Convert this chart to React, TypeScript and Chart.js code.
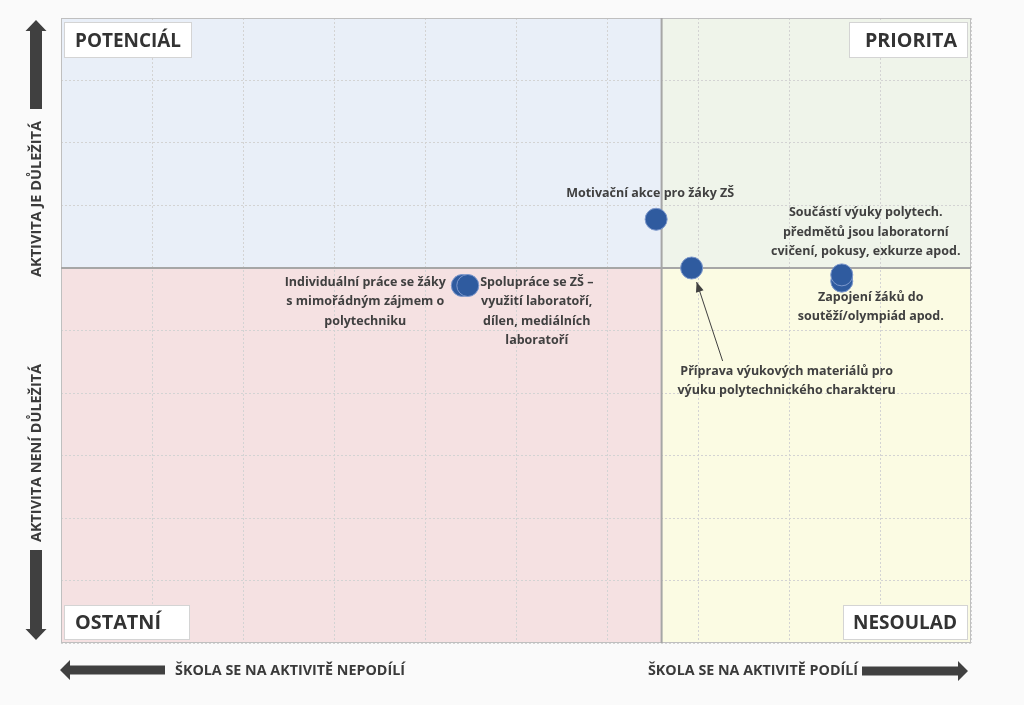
import React, { useEffect, useRef } from "react";
import { Chart, registerables } from "chart.js";

Chart.register(...registerables);

// ---- data ----
const activities: string[] = [
  "Motivační akce pro žáky ZŠ",
  "Příprava výukových materiálů pro výuku polytechnického charakteru",
  "Zapojení žáků do soutěží/olympiád apod.",
  "Součástí výuky polytech. předmětů jsou laboratorní cvičení, pokusy, exkurze apod.",
  "Individuální práce se žáky s mimořádným zájmem o polytechniku",
  "Spolupráce se ZŠ – využití laboratoří, dílen, mediálních laboratoří",
];
const participation: number[] = [6.54, 6.93, 8.58, 8.58, 4.41, 4.47];
const importance: number[] = [6.78, 6.0, 5.79, 5.89, 5.72, 5.72];

const xDivider = 6.6;
const yDivider = 6;
const axisMin = 0;
const axisMax = 10;

const quadrantNames: string[] = ["POTENCIÁL", "PRIORITA", "OSTATNÍ", "NESOULAD"];
const axisTexts: string[] = [
  "AKTIVITA JE DŮLEŽITÁ",
  "AKTIVITA NENÍ DŮLEŽITÁ",
  "ŠKOLA SE NA AKTIVITĚ NEPODÍLÍ",
  "ŠKOLA SE NA AKTIVITĚ PODÍLÍ",
];

// ---- label layout (style) ----
const labelLines: string[][] = [
  ["Motivační akce pro žáky ZŠ"],
  ["Příprava výukových materiálů pro", "výuku polytechnického charakteru"],
  ["Zapojení žáků do", "soutěží/olympiád apod."],
  ["Součástí výuky polytech.", "předmětů jsou laboratorní", "cvičení, pokusy, exkurze apod."],
  ["Individuální práce se žáky", "s mimořádným zájmem o", "polytechniku"],
  ["Spolupráce se ZŠ –", "využití laboratoří,", "dílen, mediálních", "laboratoří"],
];
const labelOffsets: [number, number][] = [
  [-6, -26],
  [95, 103],
  [29, 16],
  [24, -62],
  [-97, -3],
  [69, -3],
];

const FONT = '"Open Sans", "DejaVu Sans", sans-serif';

function blockArrow(
  ctx: CanvasRenderingContext2D,
  x1: number, y1: number, x2: number, y2: number,
  shaft: number, headW: number, headL: number, color: string
) {
  const ang = Math.atan2(y2 - y1, x2 - x1);
  const len = Math.hypot(x2 - x1, y2 - y1);
  ctx.save();
  ctx.translate(x1, y1);
  ctx.rotate(ang);
  ctx.fillStyle = color;
  ctx.beginPath();
  ctx.moveTo(0, -shaft / 2);
  ctx.lineTo(len - headL, -shaft / 2);
  ctx.lineTo(len - headL, -headW / 2);
  ctx.lineTo(len, 0);
  ctx.lineTo(len - headL, headW / 2);
  ctx.lineTo(len - headL, shaft / 2);
  ctx.lineTo(0, shaft / 2);
  ctx.closePath();
  ctx.fill();
  ctx.restore();
}

const quadrantPlugin = {
  id: "quadrants",
  beforeDraw(chart: any) {
    const { ctx, chartArea: a, scales } = chart;
    const xs = scales.x, ys = scales.y;
    const mx = xs.getPixelForValue(xDivider);
    const my = ys.getPixelForValue(yDivider);
    ctx.save();
    ctx.fillStyle = "#fafafa";
    ctx.fillRect(0, 0, chart.width, chart.height);
    ctx.fillStyle = "#e9eff8";
    ctx.fillRect(a.left, a.top, mx - a.left, my - a.top);
    ctx.fillStyle = "#eff4ea";
    ctx.fillRect(mx, a.top, a.right - mx, my - a.top);
    ctx.fillStyle = "#f5e1e2";
    ctx.fillRect(a.left, my, mx - a.left, a.bottom - my);
    ctx.fillStyle = "#fbfbe3";
    ctx.fillRect(mx, my, a.right - mx, a.bottom - my);
    ctx.restore();
  },
  beforeDatasetsDraw(chart: any) {
    const { ctx, chartArea: a, scales } = chart;
    const mx = scales.x.getPixelForValue(xDivider);
    const my = scales.y.getPixelForValue(yDivider);
    ctx.save();
    ctx.strokeStyle = "#bfbfbf";
    ctx.lineWidth = 1;
    ctx.strokeRect(a.left + 0.5, a.top + 0.5, a.right - a.left - 1, a.bottom - a.top - 1);
    ctx.strokeStyle = "#a6a6a6";
    ctx.lineWidth = 2;
    ctx.beginPath();
    ctx.moveTo(mx, a.top);
    ctx.lineTo(mx, a.bottom);
    ctx.moveTo(a.left, my);
    ctx.lineTo(a.right, my);
    ctx.stroke();
    ctx.restore();
  },
  afterDatasetsDraw(chart: any) {
    const { ctx, chartArea: a, scales } = chart;
    const xs = scales.x, ys = scales.y;
    ctx.save();

    // data labels
    ctx.fillStyle = "#404040";
    ctx.font = `bold 12.5px ${FONT}`;
    ctx.textAlign = "center";
    ctx.textBaseline = "middle";
    const lh = 19.3;
    for (let i = 0; i < activities.length; i++) {
      const px = xs.getPixelForValue(participation[i]);
      const py = ys.getPixelForValue(importance[i]);
      const [dx, dy] = labelOffsets[i];
      labelLines[i].forEach((ln, k) => {
        ctx.fillText(ln, px + dx, py + dy + k * lh);
      });
    }

    // annotation arrow for "Příprava"
    {
      const px = xs.getPixelForValue(participation[1]);
      const py = ys.getPixelForValue(importance[1]);
      const sx = px + 31, sy = py + 93, ex = px + 5, ey = py + 14;
      ctx.strokeStyle = "#404040";
      ctx.lineWidth = 1;
      ctx.beginPath();
      ctx.moveTo(sx, sy);
      ctx.lineTo(ex, ey);
      ctx.stroke();
      const ang = Math.atan2(ey - sy, ex - sx);
      ctx.beginPath();
      ctx.moveTo(ex, ey);
      ctx.lineTo(ex - 10 * Math.cos(ang) + 4 * Math.sin(ang), ey - 10 * Math.sin(ang) - 4 * Math.cos(ang));
      ctx.lineTo(ex - 10 * Math.cos(ang) - 4 * Math.sin(ang), ey - 10 * Math.sin(ang) + 4 * Math.cos(ang));
      ctx.closePath();
      ctx.fillStyle = "#404040";
      ctx.fill();
    }

    // quadrant name boxes
    const boxes: [number, number, number, number, string][] = [
      [a.left + 3, a.top + 4, 128, 36, quadrantNames[0]],
      [a.right - 122, a.top + 4, 119, 36, quadrantNames[1]],
      [a.left + 3, a.bottom - 38, 126, 35, quadrantNames[2]],
      [a.right - 128, a.bottom - 38, 125, 35, quadrantNames[3]],
    ];
    const textW = [106, 92, 86, 104];
    boxes.forEach(([bx, by, bw, bh, t], i) => {
      ctx.fillStyle = "#ffffff";
      ctx.fillRect(bx, by, bw, bh);
      ctx.strokeStyle = "#d4d4d4";
      ctx.lineWidth = 1;
      ctx.strokeRect(bx + 0.5, by + 0.5, bw - 1, bh - 1);
      ctx.fillStyle = "#333333";
      ctx.font = `bold 20px ${FONT}`;
      ctx.textBaseline = "middle";
      if (i % 2 === 0) {
        ctx.textAlign = "left";
        ctx.fillText(t, bx + 11, by + bh / 2 + 1, textW[i]);
      } else {
        ctx.textAlign = "right";
        ctx.fillText(t, bx + bw - 11, by + bh / 2 + 1, textW[i]);
      }
    });

    // axis arrows
    const ac = "#404040";
    blockArrow(ctx, 36, 109, 36, 20, 12, 21, 11, ac);
    blockArrow(ctx, 36, 550, 36, 640, 12, 21, 11, ac);
    blockArrow(ctx, 165, 670, 60, 670, 9, 20, 10, ac);
    blockArrow(ctx, 862, 671, 968, 671, 9, 20, 10, ac);

    // axis texts
    ctx.fillStyle = "#3a3a3a";
    ctx.font = `bold 15px ${FONT}`;
    ctx.textAlign = "center";
    ctx.textBaseline = "middle";
    ctx.save();
    ctx.translate(37, 199);
    ctx.rotate(-Math.PI / 2);
    ctx.fillText(axisTexts[0], 0, 0, 156);
    ctx.restore();
    ctx.save();
    ctx.translate(37, 453);
    ctx.rotate(-Math.PI / 2);
    ctx.fillText(axisTexts[1], 0, 0, 178);
    ctx.restore();
    ctx.textAlign = "left";
    ctx.fillText(axisTexts[2], 175, 671, 230);
    ctx.fillText(axisTexts[3], 648, 671, 210);

    ctx.restore();
  },
};

export default function App() {
  const ref = useRef<HTMLCanvasElement | null>(null);
  useEffect(() => {
    document.body.style.margin = "0";
    const canvas = ref.current;
    if (!canvas) return;
    const chart = new Chart(canvas, {
      type: "scatter",
      data: {
        datasets: [
          {
            label: "Aktivity",
            data: activities.map((_, i) => ({ x: participation[i], y: importance[i] })),
            pointRadius: 11,
            pointHoverRadius: 11,
            backgroundColor: "#2f5b9f",
            borderColor: "#7d98cc",
            borderWidth: 1,
          },
        ],
      },
      options: {
        responsive: false,
        animation: false,
        events: [],
        layout: { padding: { left: 61, top: 18, right: 53, bottom: 62 } },
        plugins: {
          legend: { display: false },
          tooltip: { enabled: false },
          title: { display: false },
        },
        scales: {
          x: {
            type: "linear",
            min: axisMin,
            max: axisMax,
            ticks: { display: false, stepSize: 1 },
            grid: { color: "#d3d3d3", lineWidth: 1, drawTicks: false },
            border: { display: false, dash: [2, 2] },
          },
          y: {
            type: "linear",
            min: axisMin,
            max: axisMax,
            ticks: { display: false, stepSize: 1 },
            grid: { color: "#d3d3d3", lineWidth: 1, drawTicks: false },
            border: { display: false, dash: [2, 2] },
          },
        },
      },
      plugins: [quadrantPlugin],
    });
    return () => chart.destroy();
  }, []);
  return (
    <div style={{ position: "absolute", left: 0, top: 0, width: 1024, height: 705, background: "#fafafa" }}>
      <canvas ref={ref} width={1024} height={705} style={{ display: "block" }} />
    </div>
  );
}
